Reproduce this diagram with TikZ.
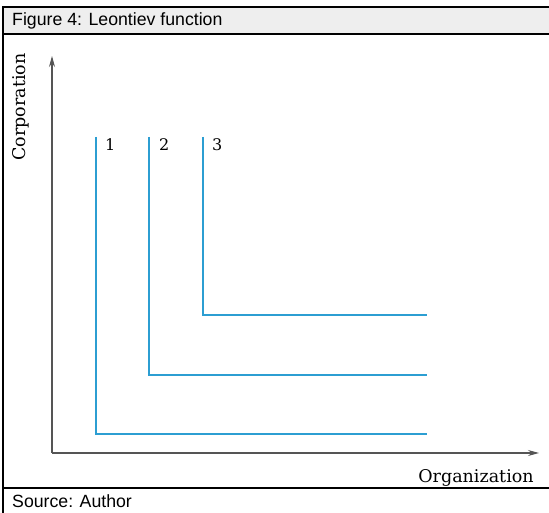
\documentclass[tikz,border=0pt]{standalone}
\usepackage{fontspec}
\setmainfont{Liberation Sans}
\newfontfamily\serifdv{DejaVu Serif}
\usetikzlibrary{arrows.meta}
\definecolor{curveblue}{RGB}{44,158,210}
\definecolor{axisgray}{RGB}{85,85,85}
\definecolor{bandgray}{RGB}{238,238,238}
\tikzset{
  frameline/.style={draw=black,line width=1.6pt},
  axisline/.style={draw=axisgray,line width=1.1pt,-{Stealth[length=11pt,width=6pt]}},
  curveline/.style={draw=curveblue,line width=2.3pt,line cap=butt,line join=miter},
  sanslabel/.style={inner sep=0pt,font=\fontsize{17.7}{20}\selectfont},
  seriflabel/.style={inner sep=0pt,font=\serifdv\fontsize{17.5}{20}\selectfont},
  numlabel/.style={inner sep=0pt,font=\serifdv\fontsize{16}{18}\selectfont},
}
\begin{document}
\begin{tikzpicture}[x=1pt,y=1pt]
\useasboundingbox (0,0) rectangle (549,513);
\begin{scope}
\clip (0,0) rectangle (549,513);
% title band
\fill[bandgray] (3,479) rectangle (560,506);
\draw[frameline] (3,-10) -- (3,506) -- (560,506);
\draw[frameline] (3,479) -- (560,479);
\draw[frameline] (3,25) -- (560,25);
\end{scope}
\node[sanslabel,anchor=west] (title) at (12,492) {Figure 4: Leontiev function};
\node[sanslabel,anchor=west] (source) at (12,12) {Source: Author};
% axes
\coordinate (origin) at (52,60);
\coordinate (ytip) at (52,457);
\coordinate (xtip) at (539,60);
\draw[axisline] (origin) -- (ytip);
\draw[axisline] (origin) -- (xtip);
\node[seriflabel,anchor=base] (xlab) at (476,30) {Organization};
\node[seriflabel,rotate=90] (ylab) at (21,406) {Corporation};
% curves
\coordinate (a1) at (96,376);
\coordinate (b1) at (96,79);
\coordinate (c1) at (427,79);
\coordinate (a2) at (149,376);
\coordinate (b2) at (149,138);
\coordinate (c2) at (427,138);
\coordinate (a3) at (203,376);
\coordinate (b3) at (203,198);
\coordinate (c3) at (427,198);
\draw[curveline] (a1) -- (b1) -- (c1);
\draw[curveline] (a2) -- (b2) -- (c2);
\draw[curveline] (a3) -- (b3) -- (c3);
\node[numlabel,anchor=west] (n1) at (105,368) {1};
\node[numlabel,anchor=west] (n2) at (159,368) {2};
\node[numlabel,anchor=west] (n3) at (212,368) {3};
\end{tikzpicture}
\end{document}
